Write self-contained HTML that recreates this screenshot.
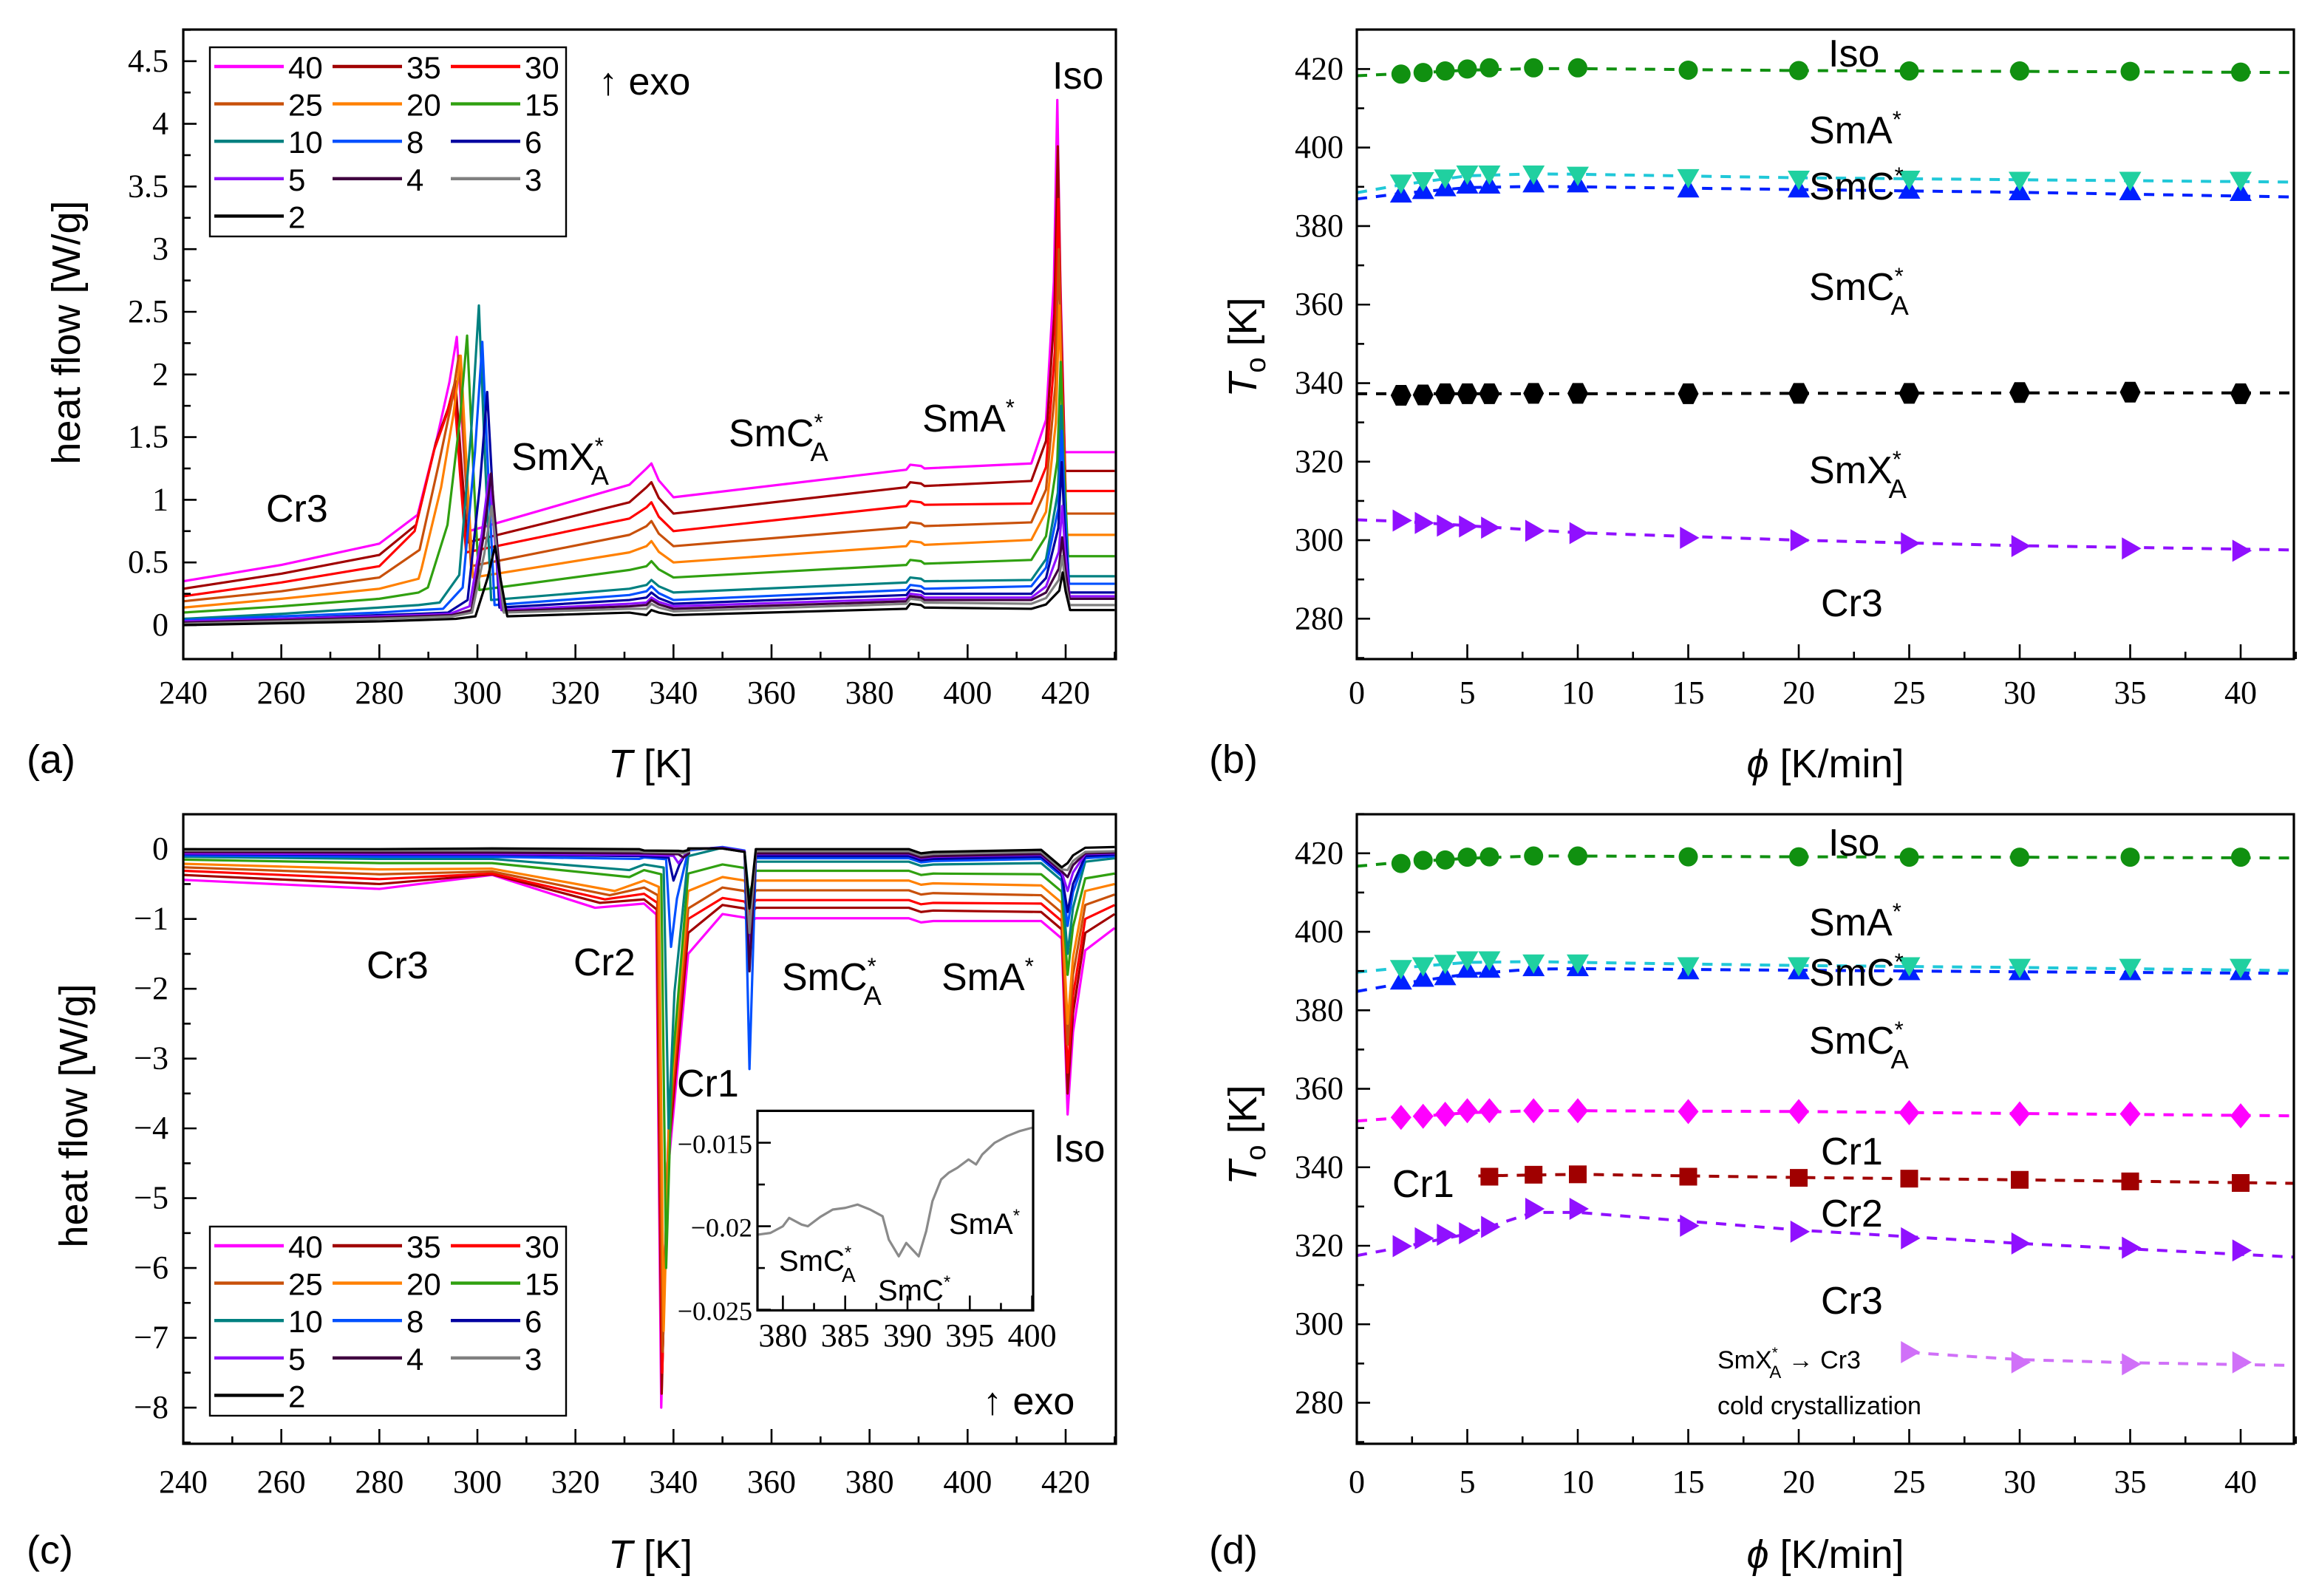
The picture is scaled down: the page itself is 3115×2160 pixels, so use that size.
<!DOCTYPE html>
<html><head><meta charset="utf-8"><style>
html,body{margin:0;padding:0;background:#fff;}
svg{display:block;}
</style></head><body>
<svg id="fig" xmlns="http://www.w3.org/2000/svg" width="3115" height="2160" viewBox="0 0 1557.5 1080">
<rect x="0" y="0" width="1557.5" height="1080" fill="#fff"/>
<defs>
<clipPath id="clipA"><rect x="124" y="20" width="631" height="426"/></clipPath>
<clipPath id="clipC"><rect x="124" y="551" width="631" height="426"/></clipPath>
<clipPath id="clipB"><rect x="918" y="20" width="634" height="426"/></clipPath>
<clipPath id="clipD"><rect x="918" y="551" width="634" height="426"/></clipPath>
<clipPath id="clipI"><rect x="512.5" y="751.7" width="186.5" height="135"/></clipPath>
</defs>
<g id="layer"></g>
</svg>
<script>
// ---------- data ----------
const rates = [40,35,30,25,20,15,10,8,6,5,4,3,2];
const seriesColors = ['#ff00ff','#a00000','#ff0000','#c8500a','#ff8000','#30a010','#008080','#0050ff','#0000a0','#9010ff','#400040','#808080','#000000'];
// panel (a) heating
const a240 = [0.35,0.29,0.23,0.19,0.14,0.10,0.05,0.04,0.03,0.03,0.02,0.01,0.0];
const a260 = [0.48,0.41,0.34,0.27,0.21,0.15,0.09,0.07,0.05,0.05,0.04,0.03,0.015];
const a280 = [0.65,0.56,0.47,0.38,0.29,0.21,0.14,0.10,0.08,0.07,0.06,0.05,0.03];
const a288 = [0.85,0.75,0.64,0.50,0.37,0.26,0.16,0.12,0.09,0.08,0.07,0.06,0.04];
const aPre8 = [0.88,0.80,0.75,0.60,0.45,0.30,0.18,0.13,0.10,0.09,0.08,0.07,0.05];
const aPre4 = [1.5,1.45,1.4,1.3,1.1,0.8,0.4,0.3,0.2,0.15,0.12,0.10,0.07];
const crT = [295.8,295.5,295.2,296.2,296.6,297.9,300.3,301.0,302.0,302.4,302.8,302.9,303.6];
const crH = [2.3,1.95,1.9,2.15,2.15,2.31,2.55,2.26,1.86,1.2,1.21,0.95,0.63];
const aSmx0 = [0.75,0.66,0.58,0.47,0.38,0.28,0.20,0.16,0.14,0.12,0.11,0.10,0.07];
const a331 = [1.12,0.98,0.85,0.72,0.58,0.44,0.29,0.24,0.20,0.17,0.15,0.13,0.10];
const a335 = [1.29,1.14,0.98,0.83,0.67,0.51,0.36,0.31,0.26,0.22,0.20,0.17,0.12];
const a340 = [1.02,0.89,0.75,0.63,0.50,0.38,0.26,0.20,0.17,0.15,0.13,0.11,0.08];
const a388 = [1.24,1.10,0.95,0.78,0.63,0.48,0.34,0.28,0.24,0.21,0.19,0.17,0.13];
const a413 = [1.29,1.15,0.97,0.82,0.68,0.52,0.36,0.31,0.25,0.22,0.20,0.17,0.13];
const isoT = [418.3,418.4,418.5,418.6,418.7,419.0,419.1,419.2,419.2,419.3,419.3,419.3,419.4];
const isoH = [4.19,3.82,3.4,3.0,2.55,2.1,1.75,1.55,1.3,0.95,0.7,0.55,0.42];
const aPost = [1.38,1.23,1.07,0.89,0.72,0.55,0.39,0.33,0.26,0.23,0.21,0.16,0.12];
// panel (c) cooling
const c240 = [-0.44,-0.37,-0.31,-0.26,-0.21,-0.15,-0.11,-0.09,-0.07,-0.06,-0.04,-0.02,0];
const c280 = [-0.57,-0.5,-0.43,-0.36,-0.29,-0.2,-0.14,-0.11,-0.08,-0.07,-0.05,-0.02,0];
const c303 = [-0.37,-0.36,-0.35,-0.32,-0.28,-0.2,-0.14,-0.11,-0.08,-0.07,-0.05,-0.02,0.01];
const cr2T = [324,325,326,327,328,331,331,333,333,333,333,333,333];
const cCr2 = [-0.84,-0.77,-0.72,-0.66,-0.6,-0.4,-0.3,-0.14,-0.1,-0.08,-0.06,-0.03,0];
const c334 = [-0.78,-0.72,-0.64,-0.55,-0.45,-0.3,-0.22,-0.12,-0.1,-0.08,-0.06,-0.04,-0.02];
const cr1T = [337.5,337.6,337.7,337.8,338,338.5,339,339.5,340,341,342,342,342];
const cCr1 = [-8.0,-7.8,-7.5,-7.2,-6.9,-6.0,-4.0,-1.4,-0.45,-0.2,-0.12,-0.06,-0.03];
const c343 = [-1.5,-1.2,-1.0,-0.85,-0.6,-0.35,-0.1,-0.02,0,0,0,0,0.01];
const c350 = [-0.93,-0.8,-0.7,-0.55,-0.4,-0.22,0.02,0.03,0.02,0.02,0.01,0.01,0.01];
const cDipA = [-1.05,-0.95,-0.9,-0.8,-0.7,-0.65,-0.75,-3.15,-1.4,-1.6,-1.75,-1.2,-0.85];
const cA = [-0.99,-0.84,-0.73,-0.59,-0.45,-0.31,-0.18,-0.13,-0.1,-0.07,-0.06,-0.03,0.0];
const c415 = [-1.03,-0.9,-0.78,-0.66,-0.52,-0.36,-0.2,-0.14,-0.11,-0.08,-0.07,-0.04,-0.01];
const cIso = [-3.8,-3.5,-3.2,-2.8,-2.5,-1.8,-1.5,-1.1,-0.9,-0.6,-0.4,-0.3,-0.2];
const c424 = [-1.45,-1.2,-1.0,-0.8,-0.6,-0.42,-0.18,-0.13,-0.1,-0.07,-0.06,-0.04,0.02];
const c430 = [-1.13,-0.93,-0.8,-0.65,-0.5,-0.35,-0.13,-0.1,-0.08,-0.06,-0.05,-0.03,0.03];
// inset
const insetT = [378,379,380,380.5,381.5,382,383,384,385,386,387,388,388.5,389.3,389.9,390.4,390.9,391.5,392,392.7,393.3,394,394.9,395.5,396,397,398,399,400];
const insetV = [-0.0205,-0.0204,-0.0200,-0.0195,-0.0199,-0.0200,-0.01944,-0.0190,-0.0189,-0.0187,-0.0190,-0.0194,-0.0208,-0.0218,-0.0210,-0.0214,-0.0218,-0.0203,-0.0185,-0.0172,-0.0168,-0.0165,-0.0160,-0.0163,-0.0157,-0.0150,-0.0146,-0.0143,-0.0141];
// panel (b)
const phi = [2,3,4,5,6,8,10,15,20,25,30,35,40];
const bIso = [418.7,419.1,419.5,420,420.3,420.3,420.3,419.7,419.6,419.5,419.5,419.4,419.2];
const bSmAC = [391,391.6,392.3,393.3,393.3,393.3,393,392.4,392,392,391.7,391.7,391.7];
const bSmCCA = [388.1,389,389.7,390.4,390.4,390.7,390.7,389.4,389.4,389.1,388.7,388.7,388.5];
const bSmCAX = [336.9,337,337.3,337.3,337.3,337.4,337.4,337.3,337.4,337.4,337.6,337.7,337.3];
const bSmXCr = [305,304.4,303.7,303.5,303.2,302.4,301.8,300.6,300,299.2,298.5,297.9,297.3];
const fitPhi = [0,2,5,8,10,20,30,42.5];
const bIsoFit = [418.3,418.8,419.7,420.1,420.1,419.6,419.4,419.1];
const bSmACFit = [388.5,390.5,392.8,393.3,393.2,392.3,391.8,391.2];
const bSmCCAFit = [386.9,388.3,389.8,390.1,390,389.3,388.6,387.4];
const bSmCAXFit = [337.3,337.3,337.3,337.3,337.3,337.4,337.5,337.5];
const bSmXCrFit = [305.2,304.8,303.7,302.6,301.9,300,298.6,297.5];
// panel (d)
const dIso = [417.4,418.2,418.3,419,419.1,419.3,419.3,419.1,419.1,419,419,419,419];
const dSmAC = [390.7,391.4,392,392.9,392.9,392.1,392.1,391.4,391.4,391.4,391,391,391];
const dSmCCA = [387.4,388.1,388.5,390.4,390.4,390.8,390.8,390,390,389.8,389.8,389.8,389.8];
const dCr1 = [352.7,353,353.5,354.4,354.4,354.4,354.4,354.2,354.2,353.9,353.6,353.6,353.1];
const phiCr2 = [6,8,10,15,20,25,30,35,40];
const dCr2 = [337.6,338.1,338.2,337.6,337.3,337.1,336.8,336.4,336];
const dCr3 = [319.9,321.9,322.8,323.2,324.8,329.4,329.4,325.1,323.6,321.9,320.6,319.5,318.8];
const phiCold = [25,30,35,40];
const dCold = [292.9,290.3,289.8,290.3];
const dIsoFit = [416.7,417.7,418.7,419.3,419.3,419.1,419,418.8];
const dSmACFit = [389.7,390.8,392.2,392.4,392.2,391.4,390.9,390.1];
const dSmCCAFit = [384.8,386.8,389.2,390.5,390.6,390.2,389.8,389.4];
const dCr1Fit = [351.8,352.6,353.9,354.4,354.4,354.2,353.7,353.1];
const fitPhiCr2 = [5.5,10,20,30,42.5];
const dCr2Fit = [337.8,338.2,337.4,336.8,335.9];
const fitPhiCr3 = [0,2,5,8,10,20,30,42.5];
const dCr3Fit = [317.5,319.6,323,328.5,328.5,324,320.6,317.1];
const fitPhiCold = [25,30,35,42.5];
const dColdFit = [292.8,291,290.2,289.5];

// ---------- helpers ----------
const NS='http://www.w3.org/2000/svg';
const SERIF='"Liberation Serif", "Times New Roman", serif';
const SANS='"Liberation Sans", Arial, sans-serif';
const root=document.getElementById('layer');
function el(tag, attrs, parent){const e=document.createElementNS(NS,tag);for(const k in attrs)e.setAttribute(k,attrs[k]);(parent||root).appendChild(e);return e;}
function txt(x,y,s,cls,size,anchor,parent,name){
  const t=el('text',{x:x,y:y,'font-family':cls==='tk'?SERIF:SANS,'font-size':size,'text-anchor':anchor||'start',fill:'#000'},parent);
  t.textContent=s;
  
  
  return t;
}
function phaseLabel(x,y,base,sub,star,size,parent,name){
  const t=el('text',{x:x,y:y,'font-family':SANS,'font-size':size,fill:'#000'},parent);
  
  
  const a=document.createElementNS(NS,'tspan');a.textContent=base;t.appendChild(a);
  if(star){const s=document.createElementNS(NS,'tspan');s.setAttribute('dy',-size*0.42);s.setAttribute('font-size',size*0.6);s.textContent='*';t.appendChild(s);
    if(sub){const b=document.createElementNS(NS,'tspan');b.setAttribute('dy',size*0.8);b.setAttribute('dx',-size*0.33);b.setAttribute('font-size',size*0.7);b.textContent=sub;t.appendChild(b);}}
  return t;
}
function frame(x0,y0,x1,y1,name){
  const r=el('rect',{x:x0,y:y0,width:x1-x0,height:y1-y0,fill:'none',stroke:'#000','stroke-width':1.6});
  
  
}
function xTicks(vals,minor,sx,yb,labY,fmt,name){
  const g=el('g',{});
  
  
  minor.forEach(v=>el('line',{x1:sx(v),x2:sx(v),y1:yb,y2:yb-5,stroke:'#000','stroke-width':1.3},g));
  vals.forEach(v=>{el('line',{x1:sx(v),x2:sx(v),y1:yb,y2:yb-10,stroke:'#000','stroke-width':1.3},g);
    txt(sx(v),labY,fmt(v),'tk',22,'middle',g,'x-tick-label');});
}
function yTicks(vals,minor,sy,xl,labX,fmt,name,size){
  const g=el('g',{});
  
  
  minor.forEach(v=>el('line',{x1:xl,x2:xl+5,y1:sy(v),y2:sy(v),stroke:'#000','stroke-width':1.3},g));
  vals.forEach(v=>{el('line',{x1:xl,x2:xl+9,y1:sy(v),y2:sy(v),stroke:'#000','stroke-width':1.3},g);
    txt(labX,sy(v)+7,fmt(v),'tk',size||22,'end',g,'y-tick-label');});
}
function range(a,b,s){const r=[];for(let v=a;v<=b+1e-9;v+=s)r.push(+v.toFixed(4));return r;}
function poly(pts,sx,sy,color,w,clip,name,dash){
  const p=el('polyline',{points:pts.map(q=>sx(q[0]).toFixed(2)+','+sy(q[1]).toFixed(2)).join(' '),fill:'none',stroke:color,'stroke-width':w,'stroke-linejoin':'round','clip-path':'url(#'+clip+')'});
  if(dash)p.setAttribute('stroke-dasharray',dash);
  
  
  return p;
}
function yfmt(v){return (v<0?'\u2212':'')+Math.abs(v);}

// ---------- panel (a) ----------
const axA=T=>124+(T-240)*(597/180);
const ayA=v=>423-v*84.8;
for(let i=0;i<rates.length;i++){
  const Tp=crT[i],Ti=isoT[i];
  const pre=[[240,a240[i]],[260,a260[i]],[280,a280[i]]];
  if(Tp-8>288.5) pre.push([288,a288[i]]);
  const pts=pre.concat([[Tp-8,aPre8[i]],[Tp-4,aPre4[i]],[Tp-1.5,aPre4[i]+(crH[i]-aPre4[i])*0.55],[Tp,crH[i]],
    [Tp+1.2,(crH[i]+aSmx0[i])/2],[Tp+2.5,aSmx0[i]],[331,a331[i]],[334.5,a335[i]-0.04],[335.5,a335[i]],[337,(a335[i]+a340[i])/2],[340,a340[i]],
    [387.5,a388[i]],[388.3,a388[i]+0.04],[390.5,a388[i]+0.03],[391.2,a388[i]+0.01],[413,a413[i]],[416,a413[i]+(isoH[i]-a413[i])*0.12],
    [Ti-0.7,a413[i]+(isoH[i]-a413[i])*0.5],[Ti,isoH[i]],[Ti+0.6,(isoH[i]+aPost[i])/2],[Ti+1.5,aPost[i]],[430,aPost[i]]]);
  poly(pts,axA,ayA,seriesColors[i],1.6,'clipA','heating-curve-'+rates[i]);
}
frame(124,20,755,446,'plot-frame-a');
xTicks(range(240,420,20),range(250,430,20),axA,446,476,v=>String(v),'x-axis-a');
yTicks(range(0,4.5,0.5),range(0.25,4.75,0.5),ayA,124,114,v=>String(v),'y-axis-a');

// ---------- panel (c) ----------
const ayC=v=>574.6-v*47.24;
for(let i=0;i<rates.length;i++){
  const pts=[[240,c240[i]],[280,c280[i]],[303,c303[i]],[cr2T[i],cCr2[i]],[334,c334[i]],[cr1T[i]-1,c334[i]*1.2],[cr1T[i],cCr1[i]],
    [cr1T[i]+1.2,(cCr1[i]+c343[i])/2],[343,c343[i]],[350,c350[i]],[354.5,c350[i]-0.05],[355.5,cDipA[i]],[356.8,cA[i]],[388,cA[i]],
    [390.5,cA[i]-0.06],[393,cA[i]-0.04],[415,c415[i]],[419.2,c415[i]-0.25],[420.4,cIso[i]],[421.5,(cIso[i]+c424[i])/2],[424,c424[i]],[430,c430[i]]];
  poly(pts,axA,ayC,seriesColors[i],1.6,'clipC','cooling-curve-'+rates[i]);
}
frame(124,551,755,977,'plot-frame-c');
xTicks(range(240,420,20),range(250,430,20),axA,977,1010,v=>String(v),'x-axis-c');
yTicks(range(-8,0,1),range(-8.5,-0.5,1),ayC,124,114,yfmt,'y-axis-c');

// inset
const axI=T=>529.7+(T-380)*8.43;
const ayI=v=>773.3+(-0.015-v)*11300;
el('rect',{x:512.5,y:751.7,width:186.5,height:135,fill:'#fff'});
poly(insetT.map((t,k)=>[t,insetV[k]]),axI,ayI,'#8a8a8a',1.6,'clipI','inset-curve');
frame(512.5,751.7,699,886.7,'inset-frame');
xTicks(range(380,400,5),range(382.5,397.5,5),axI,886.7,911,v=>String(v),'inset-x-axis');
yTicks([-0.015,-0.02,-0.025],[-0.0175,-0.0225],ayI,512.5,509,yfmt,'inset-y-axis',18);

// legends
function legend(x0,y0,name){
  const g=el('g',{});
  
  
  el('rect',{x:x0,y:y0,width:241,height:128,fill:'#fff',stroke:'#000','stroke-width':1.2},g);
  for(let i=0;i<rates.length;i++){
    const col=i%3,row=Math.floor(i/3);
    const lx=x0+3+col*80,ly=y0+13+row*25.3;
    const ln=el('line',{x1:lx,x2:lx+47,y1:ly,y2:ly,stroke:seriesColors[i],'stroke-width':2.2},g);
    
    
    txt(lx+50,ly+8,String(rates[i]),'lb',21,'start',g,'legend-entry-'+rates[i]);
  }
}
legend(142,32,'legend-a');
legend(142,830,'legend-c');

// ---------- panels (b),(d) ----------
const axB=r=>918+r*14.95;
const ayB=K=>46.7+(420-K)*2.657;
const ayD=K=>577.4+(420-K)*2.656;
function marker(shape,cx,cy,color,g){
  let m;
  if(shape==='circle') m=el('circle',{cx:cx,cy:cy,r:6.5,fill:color},g);
  else if(shape==='square') m=el('rect',{x:cx-6,y:cy-6,width:12,height:12,fill:color},g);
  else {
    const s=7.5;let p;
    if(shape==='up') p=[[0,-s],[s,s*0.75],[-s,s*0.75]];
    else if(shape==='down') p=[[0,s],[s,-s*0.75],[-s,-s*0.75]];
    else if(shape==='right') p=[[s,0],[-s*0.75,s],[-s*0.75,-s]];
    else if(shape==='diamond') p=[[0,-8.5],[7,0],[0,8.5],[-7,0]];
    else p=[[-3.5,-7],[3.5,-7],[7,0],[3.5,7],[-3.5,7],[-7,0]];
    m=el('polygon',{points:p.map(q=>(cx+q[0]).toFixed(2)+','+(cy+q[1]).toFixed(2)).join(' '),fill:color},g);
  }
  
  
}
function series(xs,ys,fx,fy,sy,shape,color,lineColor,clip,name){
  poly(fx.map((x,k)=>[x,fy[k]]),axB,sy,lineColor,2,clip,name+'-fit','7 6');
  const g=el('g',{'clip-path':'url(#'+clip+')'});
  
  
  xs.forEach((x,k)=>marker(shape,axB(x),sy(ys[k]),color,g));
}
series(phi,bSmXCr,fitPhi,bSmXCrFit,ayB,'right','#9010ff','#9010ff','clipB','b-smx-cr3');
series(phi,bSmCAX,fitPhi,bSmCAXFit,ayB,'hex','#000','#000','clipB','b-smca-smx');
series(phi,bSmCCA,fitPhi,bSmCCAFit,ayB,'up','#0020ff','#0020ff','clipB','b-smc-smca');
series(phi,bSmAC,fitPhi,bSmACFit,ayB,'down','#20d0a0','#20c8d8','clipB','b-sma-smc');
series(phi,bIso,fitPhi,bIsoFit,ayB,'circle','#109010','#109010','clipB','b-iso-sma');
frame(918,20,1552,446,'plot-frame-b');
xTicks(range(0,40,5),range(2.5,42.5,5),axB,446,476,v=>String(v),'x-axis-b');
yTicks(range(280,420,20),range(270,430,20),ayB,918,909,v=>String(v),'y-axis-b');

series(phi,dCr3,fitPhiCr3,dCr3Fit,ayD,'right','#9010ff','#9010ff','clipD','d-cr2-cr3');
series(phiCold,dCold,fitPhiCold,dColdFit,ayD,'right','#d070f8','#d070f8','clipD','d-cold-crystallization');
series(phiCr2,dCr2,fitPhiCr2,dCr2Fit,ayD,'square','#a00000','#a00000','clipD','d-cr1-cr2');
series(phi,dCr1,fitPhi,dCr1Fit,ayD,'diamond','#ff00ff','#ff00ff','clipD','d-smca-cr1');
series(phi,dSmCCA,fitPhi,dSmCCAFit,ayD,'up','#0020ff','#0020ff','clipD','d-smc-smca');
series(phi,dSmAC,fitPhi,dSmACFit,ayD,'down','#20d0a0','#20c8d8','clipD','d-sma-smc');
series(phi,dIso,fitPhi,dIsoFit,ayD,'circle','#109010','#109010','clipD','d-iso-sma');
frame(918,551,1552,977,'plot-frame-d');
xTicks(range(0,40,5),range(2.5,42.5,5),axB,977,1010,v=>String(v),'x-axis-d');
yTicks(range(280,420,20),range(270,430,20),ayD,918,909,v=>String(v),'y-axis-d');

// ---------- labels ----------
const S=26;
txt(405,64,'\u2191 exo','lb',S,'start',null,'exo-label-a');
txt(712,60,'Iso','lb',S,'start',null,'iso-label-a');
phaseLabel(624,292,'SmA',null,true,S,null,'sma-label-a');
phaseLabel(493,302,'SmC','A',true,S,null,'smca-label-a');
phaseLabel(346,318,'SmX','A',true,S,null,'smxa-label-a');
txt(180,353,'Cr3','lb',S,'start',null,'cr3-label-a');
txt(248,662,'Cr3','lb',S,'start',null,'cr3-label-c');
txt(388,660,'Cr2','lb',S,'start',null,'cr2-label-c');
phaseLabel(529,670,'SmC','A',true,S,null,'smca-label-c');
phaseLabel(637,670,'SmA',null,true,S,null,'sma-label-c');
txt(458,742,'Cr1','lb',S,'start',null,'cr1-label-c');
txt(713,786,'Iso','lb',S,'start',null,'iso-label-c');
txt(665,957,'\u2191 exo','lb',S,'start',null,'exo-label-c');
phaseLabel(527,860,'SmC','A',true,20,null,'inset-smca-label');
phaseLabel(594,880,'SmC',null,true,20,null,'inset-smc-label');
phaseLabel(642,835,'SmA',null,true,20,null,'inset-sma-label');
txt(1237,45,'Iso','lb',S,'start',null,'iso-label-b');
phaseLabel(1224,97,'SmA',null,true,S,null,'sma-label-b');
phaseLabel(1224,135,'SmC',null,true,S,null,'smc-label-b');
phaseLabel(1224,203,'SmC','A',true,S,null,'smca-label-b');
phaseLabel(1224,327,'SmX','A',true,S,null,'smxa-label-b');
txt(1232,417,'Cr3','lb',S,'start',null,'cr3-label-b');
txt(1237,579,'Iso','lb',S,'start',null,'iso-label-d');
phaseLabel(1224,633,'SmA',null,true,S,null,'sma-label-d');
phaseLabel(1224,667,'SmC',null,true,S,null,'smc-label-d');
phaseLabel(1224,713,'SmC','A',true,S,null,'smca-label-d');
txt(1232,788,'Cr1','lb',S,'start',null,'cr1-label-d');
txt(942,810,'Cr1','lb',S,'start',null,'cr1-left-label-d');
txt(1232,830,'Cr2','lb',S,'start',null,'cr2-label-d');
txt(1232,889,'Cr3','lb',S,'start',null,'cr3-label-d');
const cc=phaseLabel(1162,926,'SmX','A',true,17,null,'cold-cryst-transition-label');
const ar=document.createElementNS(NS,'tspan');ar.setAttribute('dy',-17*0.38);ar.setAttribute('font-size',17);ar.textContent=' \u2192 Cr3';cc.appendChild(ar);
txt(1162,957,'cold crystallization','lb',17,'start',null,'cold-cryst-label');

function axisTitle(cx,y,italic,rest,name){
  const t=el('text',{x:cx,y:y,'font-family':SANS,'font-size':27,'text-anchor':'middle',fill:'#000'});
  
  
  const a=document.createElementNS(NS,'tspan');a.setAttribute('font-style','italic');a.textContent=italic;t.appendChild(a);
  const b=document.createElementNS(NS,'tspan');b.textContent=rest;t.appendChild(b);
}
axisTitle(440,526,'T',' [K]','x-axis-title-a');
axisTitle(440,1061,'T',' [K]','x-axis-title-c');
axisTitle(1235,526,'\u03d5',' [K/min]','x-axis-title-b');
axisTitle(1235,1061,'\u03d5',' [K/min]','x-axis-title-d');
txt(18,523,'(a)','lb',27,'start',null,'panel-label-a');
txt(18,1058,'(c)','lb',27,'start',null,'panel-label-c');
txt(818,523,'(b)','lb',27,'start',null,'panel-label-b');
txt(818,1058,'(d)','lb',27,'start',null,'panel-label-d');
function yTitle(cx,cy,name){
  const t=el('text',{x:0,y:0,'font-family':SANS,'font-size':27,'text-anchor':'middle',fill:'#000',transform:'translate('+cx+','+cy+') rotate(-90)'});
  t.textContent='heat flow [W/g]';
  
  
}
yTitle(54,225,'y-axis-title-a');
yTitle(59,755,'y-axis-title-c');
function toTitle(cx,cy,name){
  const t=el('text',{x:0,y:0,'font-family':SANS,'font-size':27,'text-anchor':'middle',fill:'#000',transform:'translate('+cx+','+cy+') rotate(-90)'});
  
  
  const a=document.createElementNS(NS,'tspan');a.setAttribute('font-style','italic');a.textContent='T';t.appendChild(a);
  const s=document.createElementNS(NS,'tspan');s.setAttribute('font-size',19);s.setAttribute('dy',6);s.textContent='o';t.appendChild(s);
  const b=document.createElementNS(NS,'tspan');b.setAttribute('dy',-6);b.textContent=' [K]';t.appendChild(b);
}
toTitle(850,235,'y-axis-title-b');
toTitle(850,768,'y-axis-title-d');
</script>
</body></html>
